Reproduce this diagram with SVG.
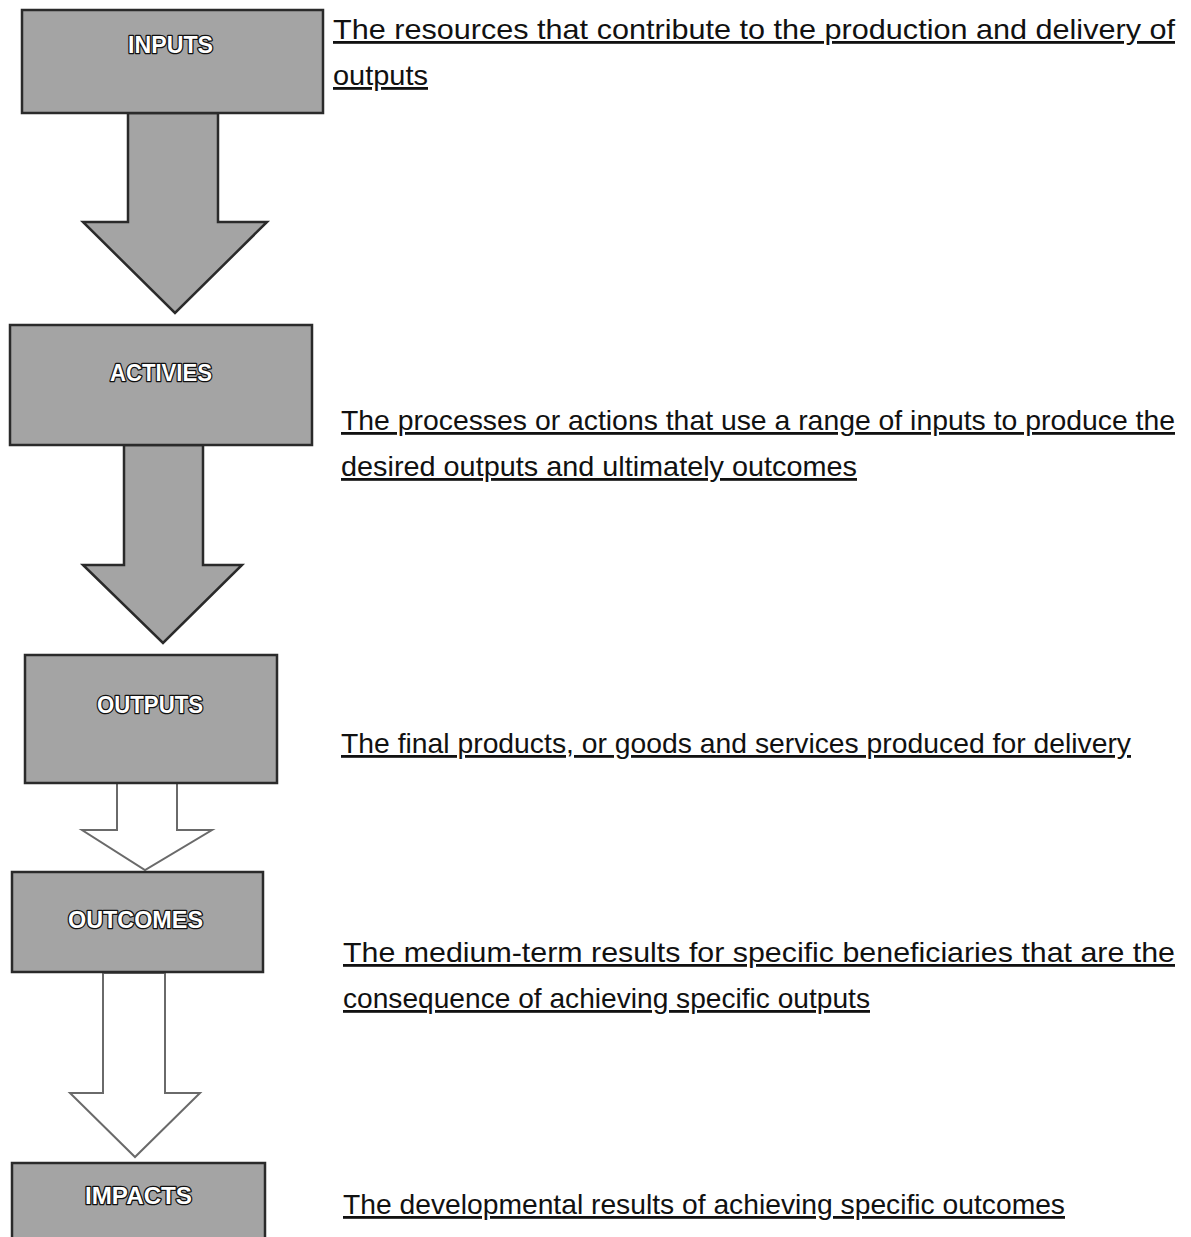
<svg xmlns="http://www.w3.org/2000/svg" width="1191" height="1237" viewBox="0 0 1191 1237">
<style>
.box{fill:#a4a4a4;stroke:#2a2a2a;stroke-width:2.5}
.lbl{font-family:"Liberation Sans",Arial,sans-serif;font-weight:bold;font-size:24px;fill:#ffffff;stroke:#111111;stroke-width:2.6;paint-order:stroke;stroke-linejoin:round}
.solid{fill:#a4a4a4;stroke:#2a2a2a;stroke-width:2.5;stroke-linejoin:miter}
.hollow{fill:#ffffff;stroke:#6a6a6a;stroke-width:2;stroke-linejoin:miter}
.desc{font-family:"Liberation Sans",Arial,sans-serif;font-size:28px;fill:#111111;text-decoration:underline}
</style>
<rect width="1191" height="1237" fill="#ffffff"/>
<g id="connectors">
<polygon class="solid" points="128,113 218,113 218,222 267,222 175,313 83,222 128,222"/>
<polygon class="solid" points="124,445 203,445 203,565 242,565 163,643 83,565 124,565"/>
<polygon class="hollow" points="117,783 177,783 177,830 212,830 145,870 82,830 117,830"/>
<polygon class="hollow" points="103,973 165,973 165,1093 200,1093 135,1157 70,1093 103,1093"/>
</g>
<g id="inputs">
<rect class="box" x="22" y="10" width="301" height="103"/>
<text class="lbl" x="128" y="53" textLength="85" lengthAdjust="spacingAndGlyphs">INPUTS</text>
</g>
<g id="activies">
<rect class="box" x="10" y="325" width="302" height="120"/>
<text class="lbl" x="110" y="381" textLength="102" lengthAdjust="spacingAndGlyphs">ACTIVIES</text>
</g>
<g id="outputs">
<rect class="box" x="25" y="655" width="252" height="128"/>
<text class="lbl" x="97" y="713" textLength="106" lengthAdjust="spacingAndGlyphs">OUTPUTS</text>
</g>
<g id="outcomes">
<rect class="box" x="12" y="872" width="251" height="100"/>
<text class="lbl" x="68" y="928" textLength="135" lengthAdjust="spacingAndGlyphs">OUTCOMES</text>
</g>
<g id="impacts">
<rect class="box" x="12" y="1163" width="253" height="80"/>
<text class="lbl" x="85" y="1204" textLength="107" lengthAdjust="spacingAndGlyphs">IMPACTS</text>
</g>
<g id="descriptions">
<text class="desc" x="333" y="39" textLength="842" lengthAdjust="spacingAndGlyphs">The resources that contribute to the production and delivery of</text>
<text class="desc" x="333" y="85" textLength="95" lengthAdjust="spacingAndGlyphs">outputs</text>
<text class="desc" x="341" y="430" textLength="834" lengthAdjust="spacingAndGlyphs">The processes or actions that use a range of inputs to produce the</text>
<text class="desc" x="341" y="476" textLength="516" lengthAdjust="spacingAndGlyphs">desired outputs and ultimately outcomes</text>
<text class="desc" x="341" y="753" textLength="790" lengthAdjust="spacingAndGlyphs">The final products, or goods and services produced for delivery</text>
<text class="desc" x="343" y="962" textLength="832" lengthAdjust="spacingAndGlyphs">The medium-term results for specific beneficiaries that are the</text>
<text class="desc" x="343" y="1008" textLength="527" lengthAdjust="spacingAndGlyphs">consequence of achieving specific outputs</text>
<text class="desc" x="343" y="1214" textLength="722" lengthAdjust="spacingAndGlyphs">The developmental results of achieving specific outcomes</text>
</g>
</svg>
